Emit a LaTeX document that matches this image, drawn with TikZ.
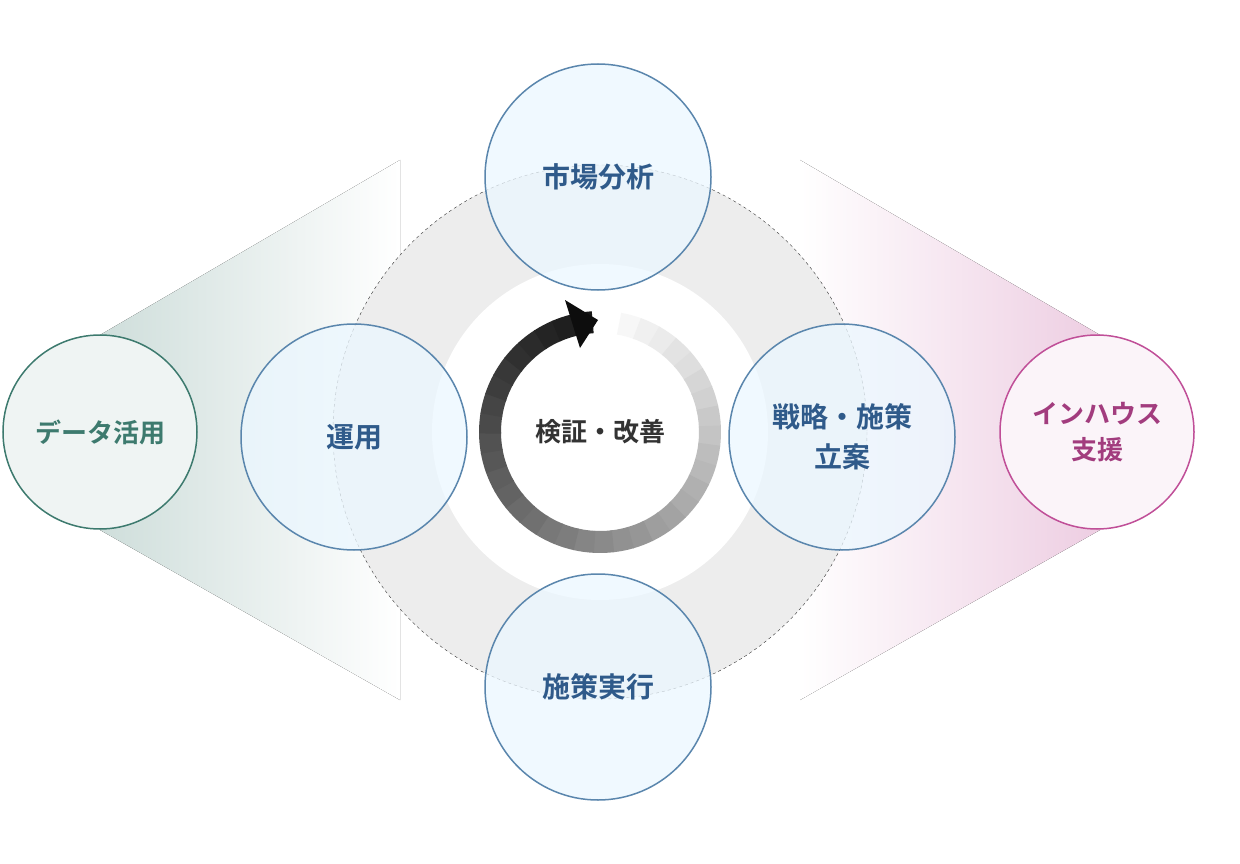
\documentclass[tikz,border=0pt]{standalone}
\usepackage{fontspec}
\newfontfamily\jp{Noto Sans CJK JP}[BoldFont={Noto Sans CJK JP Bold}]
\definecolor{bstroke}{HTML}{5A86AD}
\definecolor{btext}{HTML}{2F5A8A}
\definecolor{gtext}{HTML}{3D7A6E}
\definecolor{ptext}{HTML}{A23C7E}
\definecolor{pstroke}{HTML}{C04F98}
\tikzset{
 bc/.style={circle,draw=bstroke,line width=1.5pt,fill=blue!40!cyan!8,fill opacity=0.75,text opacity=1,minimum size=226pt,font=\jp\bfseries\fontsize{28}{40}\selectfont,text=btext,align=center},
 sc/.style={circle,line width=1.5pt,minimum size=194pt,font=\jp\bfseries\fontsize{26}{36}\selectfont,align=center}
}
\begin{document}
\begin{tikzpicture}[x=1pt,y=-1pt]
\useasboundingbox (0,0) rectangle (1240,864);
\fill[left color=gtext!25,right color=white] (100,335) -- (400,160) -- (400,700) -- (100,530) -- cycle;
\fill[right color=pstroke!28,left color=white] (1100,335) -- (800,160) -- (800,700) -- (1100,530) -- cycle;
\fill[black!7] (600,432) circle (267);
\fill[white] (600,432) circle (168);
\draw[dashed,black!80] (600,432) circle (267);
\foreach \i in {0,...,35}{
 \pgfmathsetmacro{\a}{80-\i*9.6}
 \pgfmathsetmacro{\c}{round(3+\i*2.5)}
 \draw[line width=22pt,draw=black!\c] ({600+110*cos(\a)},{432-110*sin(\a)}) arc[start angle=-\a,end angle=-\a+10.2,radius=110];
}
\fill[black!95] (598,320) -- (565,300) -- (580,348) -- cycle;
\node[font=\jp\bfseries\fontsize{26}{32}\selectfont,text=black!80] (c) at (600,432) {検証・改善};
\node[bc] (t) at (598,177) {市場分析};
\node[bc] (b) at (598,687) {施策実行};
\node[bc] (l) at (354,437) {運用};
\node[bc] (r) at (842,437) {戦略・施策\\立案};
\node[sc,draw=gtext,fill=gtext!8,text=gtext] (fl) at (100,432) {データ活用};
\node[sc,draw=pstroke,fill=pstroke!6,text=ptext] (fr) at (1097,432) {インハウス\\支援};
\end{tikzpicture}
\end{document}
